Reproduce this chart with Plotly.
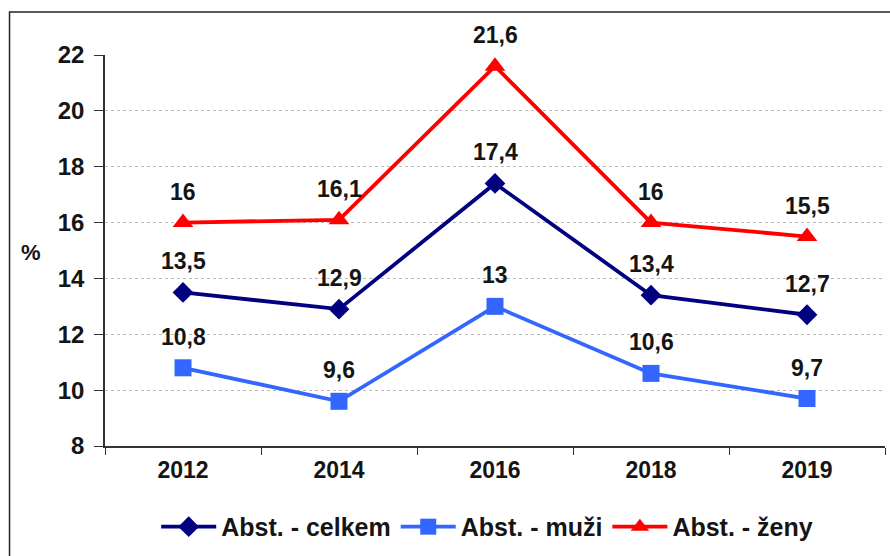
import plotly.graph_objects as go

years = ["2012", "2014", "2016", "2018", "2019"]
celkem = [13.5, 12.9, 17.4, 13.4, 12.7]
muzi = [10.8, 9.6, 13.0, 10.6, 9.7]
zeny = [16.0, 16.1, 21.6, 16.0, 15.5]
names = ["Abst. - celkem", "Abst. - muži", "Abst. - ženy"]
y_ticks = [8, 10, 12, 14, 16, 18, 20, 22]

FONT = "Liberation Sans, Arial, sans-serif"
TXT = "#151515"

def fmt(v):
    return ("%g" % v).replace(".", ",")

series = [
    (names[0], celkem, "#000080", "diamond", 16),
    (names[1], muzi, "#3366FF", "square", 17),
    (names[2], zeny, "#FF0000", "triangle-up", 18),
]

fig = go.Figure()
for name, vals, color, sym, msize in series:
    fig.add_trace(go.Scatter(
        x=years, y=vals, name=name, mode="lines+markers",
        line=dict(color=color, width=3.8),
        marker=dict(symbol=sym, size=msize, color=color),
    ))

annotations = []
for name, vals, color, sym, msize in series:
    for i, v in enumerate(vals):
        annotations.append(dict(
            x=i, y=v, xref="x", yref="y", text=fmt(v), showarrow=False,
            yshift=31, font=dict(family=FONT, size=23, color=TXT, weight="bold"),
        ))
annotations.append(dict(
    x=-0.095, y=0.496, xref="paper", yref="paper", text="%", showarrow=False,
    xanchor="center", yanchor="middle",
    font=dict(family=FONT, size=22, color=TXT, weight="bold"),
))

fig.update_layout(
    width=890, height=556,
    margin=dict(l=105, r=5, t=55, b=110),
    paper_bgcolor="white", plot_bgcolor="white",
    font=dict(family=FONT, size=22, color=TXT, weight="bold"),
    showlegend=True,
    legend=dict(orientation="h", x=0.49, xanchor="center", y=-0.207, yanchor="middle",
                font=dict(family=FONT, size=25, color=TXT, weight="bold"),
                bgcolor="rgba(0,0,0,0)", itemwidth=55),
    annotations=annotations,
    shapes=[
        dict(type="path", xref="paper", yref="paper",
             path="M -0.1224,-0.3 L -0.1224,1.11 L 1.1,1.11",
             line=dict(color="#222222", width=1.5)),
    ],
)
fig.update_xaxes(
    type="category", tickson="boundaries", ticks="outside", ticklen=7,
    tickcolor="#333333", showline=True, linecolor="#333333", linewidth=1.5,
    showgrid=False, tickfont=dict(family=FONT, size=23, weight="bold"),
    ticklabelstandoff=3, range=[-0.5, 4.5],
)
fig.update_yaxes(
    range=[8, 22], tickvals=y_ticks, ticks="outside", ticklen=9,
    tickcolor="#333333", showline=True, linecolor="#333333", linewidth=1.5,
    showgrid=True, gridcolor="#bbbbbb", griddash="dot", gridwidth=1,
    zeroline=False, tickfont=dict(family=FONT, size=24, weight="bold"),
    ticklabelstandoff=5,
)

fig.write_html("out.html", config={"displayModeBar": False},
               post_script="document.body.style.margin='0';document.body.style.overflow='hidden';")
